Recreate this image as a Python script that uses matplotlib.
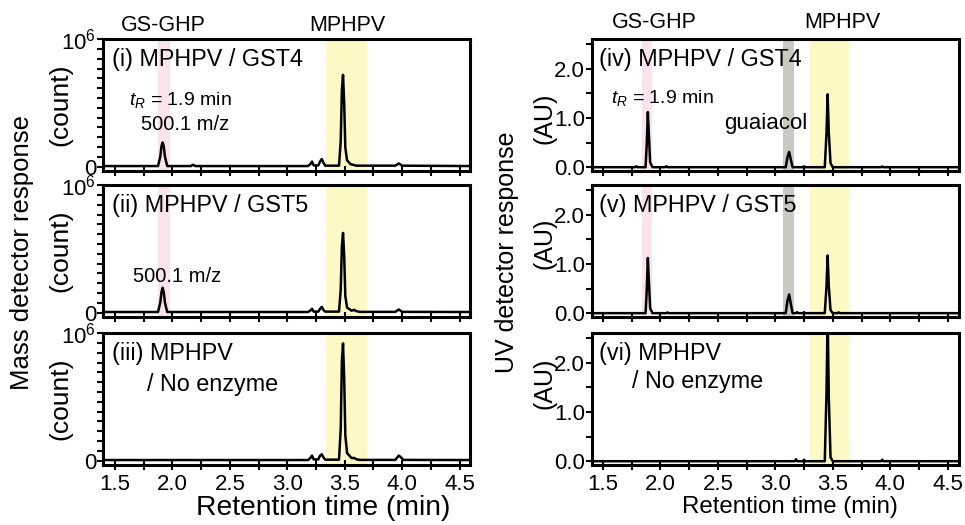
import matplotlib
matplotlib.use("Agg")
import matplotlib.pyplot as plt
from matplotlib.ticker import FixedLocator

plt.rcParams['font.family'] = ['Liberation Sans', 'DejaVu Sans']
plt.rcParams['mathtext.fontset'] = 'custom'
plt.rcParams['mathtext.rm'] = 'Liberation Sans'
plt.rcParams['mathtext.it'] = 'Liberation Sans:italic'

# ---- traced chromatograms (retention time in min) ----
# mass detector, intensity in units of 10^6 counts
t_ms1 = [1.40, 1.875, 1.895, 1.905, 1.915, 1.925, 1.935, 1.955, 2.16, 2.18, 2.20,
         3.18, 3.20, 3.215, 3.23, 3.27, 3.285, 3.30, 3.315, 3.33,
         3.45, 3.465, 3.475, 3.485, 3.495, 3.505, 3.52, 3.55, 3.60,
         3.94, 3.97, 4.00, 4.59]
y_ms1 = [0.005, 0.005, 0.08, 0.16, 0.19, 0.16, 0.08, 0.005, 0.005, 0.015, 0.005,
         0.005, 0.02, 0.04, 0.01, 0.01, 0.04, 0.06, 0.03, 0.008,
         0.008, 0.2, 0.6, 0.72, 0.5, 0.15, 0.05, 0.02, 0.008,
         0.008, 0.025, 0.008, 0.005]

t_ms2 = [1.40, 1.875, 1.895, 1.905, 1.915, 1.925, 1.935, 1.955,
         3.18, 3.20, 3.215, 3.23, 3.27, 3.285, 3.30, 3.315, 3.33,
         3.45, 3.465, 3.475, 3.485, 3.495, 3.505, 3.52, 3.56, 3.58, 3.60, 3.63,
         3.94, 3.97, 4.00, 4.59]
y_ms2 = [0.005, 0.005, 0.08, 0.16, 0.195, 0.16, 0.08, 0.005,
         0.005, 0.015, 0.03, 0.008, 0.008, 0.03, 0.045, 0.02, 0.008,
         0.008, 0.18, 0.52, 0.625, 0.45, 0.13, 0.04, 0.015, 0.022, 0.012, 0.006,
         0.006, 0.025, 0.006, 0.005]

t_ms3 = [1.40, 3.18, 3.20, 3.215, 3.23, 3.27, 3.285, 3.30, 3.315, 3.33,
         3.45, 3.465, 3.475, 3.485, 3.495, 3.505, 3.52, 3.56, 3.58, 3.60, 3.63,
         3.94, 3.97, 3.985, 4.01, 4.59]
y_ms3 = [0.005, 0.005, 0.02, 0.04, 0.01, 0.01, 0.04, 0.05, 0.025, 0.008,
         0.008, 0.25, 0.78, 0.92, 0.65, 0.2, 0.06, 0.02, 0.022, 0.012, 0.006,
         0.006, 0.04, 0.03, 0.006, 0.005]

# UV detector, absorbance in AU
t_uv4 = [1.40, 1.78, 1.79, 1.80, 1.87, 1.88, 1.89, 1.90, 1.91, 1.93, 2.04, 2.05, 2.06,
         3.09, 3.105, 3.12, 3.135, 3.15, 3.24, 3.25, 3.26,
         3.43, 3.445, 3.455, 3.465, 3.48, 3.50, 3.92, 3.93, 3.94, 4.60]
y_uv4 = [0.0, 0.0, 0.02, 0.0, 0.0, 0.45, 1.12, 0.6, 0.1, 0.0, 0.0, 0.02, 0.0,
         0.0, 0.2, 0.31, 0.15, 0.0, 0.0, 0.02, 0.0,
         0.0, 0.7, 1.48, 0.7, 0.08, 0.0, 0.0, 0.015, 0.0, 0.0]

t_uv5 = [1.40, 1.87, 1.88, 1.89, 1.90, 1.91, 1.93, 2.05, 2.06, 2.07,
         3.09, 3.105, 3.12, 3.135, 3.15, 3.18, 3.19, 3.20, 3.24, 3.25, 3.26,
         3.43, 3.445, 3.455, 3.465, 3.48, 3.50, 3.54, 3.55, 3.56, 4.60]
y_uv5 = [0.0, 0.0, 0.45, 1.12, 0.6, 0.1, 0.0, 0.0, 0.015, 0.0,
         0.0, 0.25, 0.38, 0.18, 0.0, 0.0, 0.02, 0.0, 0.0, 0.02, 0.0,
         0.0, 0.55, 1.17, 0.55, 0.06, 0.0, 0.0, 0.015, 0.0, 0.0]

t_uv6 = [1.40, 3.17, 3.18, 3.19, 3.24, 3.25, 3.26,
         3.43, 3.445, 3.455, 3.465, 3.48, 3.50, 3.92, 3.93, 3.94, 4.60]
y_uv6 = [0.0, 0.0, 0.04, 0.0, 0.0, 0.03, 0.0,
         0.0, 1.4, 3.0, 1.3, 0.08, 0.0, 0.0, 0.03, 0.0, 0.0]

ms_traces = [(t_ms1, y_ms1), (t_ms2, y_ms2), (t_ms3, y_ms3)]
uv_traces = [(t_uv4, y_uv4), (t_uv5, y_uv5), (t_uv6, y_uv6)]

ms_titles = ["(i) MPHPV / GST4", "(ii) MPHPV / GST5", "(iii) MPHPV"]
uv_titles = ["(iv) MPHPV / GST4", "(v) MPHPV / GST5", "(vi) MPHPV"]

# shaded retention windows (min)
ms_pink = (1.875, 1.975)
ms_yellow = (3.34, 3.69)
uv_pink = (1.84, 1.93)
uv_gray = (3.07, 3.16)
uv_yellow = (3.30, 3.65)

x_major = [1.5, 2.0, 2.5, 3.0, 3.5, 4.0, 4.5]
x_minor = [1.75, 2.25, 2.75, 3.25, 3.75, 4.25]

pink = '#fbe3ee'
yellow = '#fcf9c4'
gray = '#c8c9c1'

fig = plt.figure(figsize=(9.65, 5.25), dpi=100)

row_bottoms = [0.674, 0.396, 0.114]
row_h = 0.2514
ax_w = 0.380
left_x0 = 0.1067
right_x0 = 0.6135

tick_fs = 16
lab_fs = 16.8


def style_axes(ax, bottom_row):
    for s in ax.spines.values():
        s.set_linewidth(2.2)
    ax.xaxis.set_major_locator(FixedLocator(x_major))
    ax.xaxis.set_minor_locator(FixedLocator(x_minor))
    ax.tick_params(axis='x', which='both', direction='inout', length=7, width=1.5,
                   top=False, labelsize=tick_fs, pad=3)
    if not bottom_row:
        ax.tick_params(axis='x', labelbottom=False)
    ax.tick_params(axis='y', which='both', direction='out', length=4, width=1.5,
                   right=False, labelsize=tick_fs, pad=1)


ms_axes = []
uv_axes = []
for r in range(3):
    # ---- mass detector column ----
    ax = fig.add_axes([left_x0, row_bottoms[r], ax_w, row_h])
    if r < 2:
        ax.axvspan(*ms_pink, color=pink, lw=0, zorder=0)
    ax.axvspan(*ms_yellow, color=yellow, lw=0, zorder=0)
    t, y = ms_traces[r]
    ax.plot(t, y, color='black', lw=1.8, solid_joinstyle='round', zorder=3)
    ax.set_xlim(1.396, 4.587)
    ax.set_ylim(-0.035, 1.0)
    style_axes(ax, r == 2)
    ax.yaxis.set_major_locator(FixedLocator([0, 1.0]))
    ax.yaxis.set_minor_locator(FixedLocator([k / 13 for k in range(1, 13)]))
    ax.set_yticklabels(['0', '$10^6$'])
    ax.text(0.025, 0.93, ms_titles[r], transform=ax.transAxes, fontsize=lab_fs,
            va='top', ha='left')
    ax.text(-0.115, 0.5, '(count)', transform=ax.transAxes, rotation=90,
            fontsize=19, ha='center', va='center')
    ms_axes.append(ax)

    # ---- UV detector column ----
    ax = fig.add_axes([right_x0, row_bottoms[r], ax_w, row_h])
    if r < 2:
        ax.axvspan(*uv_pink, color=pink, lw=0, zorder=0)
        ax.axvspan(*uv_gray, color=gray, lw=0, zorder=0)
    ax.axvspan(*uv_yellow, color=yellow, lw=0, zorder=0)
    t, y = uv_traces[r]
    ax.plot(t, y, color='black', lw=1.8, solid_joinstyle='round', zorder=3)
    ax.set_xlim(1.404, 4.596)
    ax.set_ylim(-0.08, 2.6)
    style_axes(ax, r == 2)
    ax.yaxis.set_major_locator(FixedLocator([0.0, 1.0, 2.0]))
    ax.yaxis.set_minor_locator(FixedLocator([0.5, 1.5, 2.5]))
    ax.set_yticklabels(['0.0', '1.0', '2.0'])
    ax.text(0.02, 0.93, uv_titles[r], transform=ax.transAxes, fontsize=lab_fs,
            va='top', ha='left')
    au_y = [0.40, 0.56, 0.62][r]
    ax.text(-0.13, au_y, '(AU)', transform=ax.transAxes, rotation=90,
            fontsize=18, ha='center', va='center')
    uv_axes.append(ax)

# second line of the no-enzyme labels
ms_axes[2].text(0.12, 0.70, '/ No enzyme', transform=ms_axes[2].transAxes,
                fontsize=lab_fs, va='top', ha='left')
uv_axes[2].text(0.11, 0.72, '/ No enzyme', transform=uv_axes[2].transAxes,
                fontsize=lab_fs, va='top', ha='left')

# annotations
ms_axes[0].text(2.07, 0.52, '$t_R$ = 1.9 min', fontsize=14, ha='center', va='center')
ms_axes[0].text(2.11, 0.33, '500.1 m/z', fontsize=14.5, ha='center', va='center')
ms_axes[1].text(2.04, 0.28, '500.1 m/z', fontsize=14.5, ha='center', va='center')
uv_axes[0].text(2.02, 1.40, '$t_R$ = 1.9 min', fontsize=14, ha='center', va='center')
uv_axes[0].text(2.92, 0.89, 'guaiacol', fontsize=16, ha='center', va='center')

# compound labels above the top panels
ms_axes[0].text(1.92, 1.11, 'GS-GHP', fontsize=15.5, ha='center', va='center', clip_on=False)
ms_axes[0].text(3.52, 1.11, 'MPHPV', fontsize=15.5, ha='center', va='center', clip_on=False)
uv_axes[0].text(1.95, 2.93, 'GS-GHP', fontsize=15.5, ha='center', va='center', clip_on=False)
uv_axes[0].text(3.58, 2.93, 'MPHPV', fontsize=15.5, ha='center', va='center', clip_on=False)

# axis titles
ms_axes[2].text(0.60, -0.225, 'Retention time (min)', transform=ms_axes[2].transAxes,
                fontsize=20.3, ha='center', va='top')
uv_axes[2].text(0.54, -0.235, 'Retention time (min)', transform=uv_axes[2].transAxes,
                fontsize=17.3, ha='center', va='top')
fig.text(0.023, 0.52, 'Mass detector response', rotation=90, fontsize=18.5,
         ha='center', va='center')
fig.text(0.525, 0.52, 'UV detector response', rotation=90, fontsize=18,
         ha='center', va='center')

fig.savefig('out.png', dpi=100)
